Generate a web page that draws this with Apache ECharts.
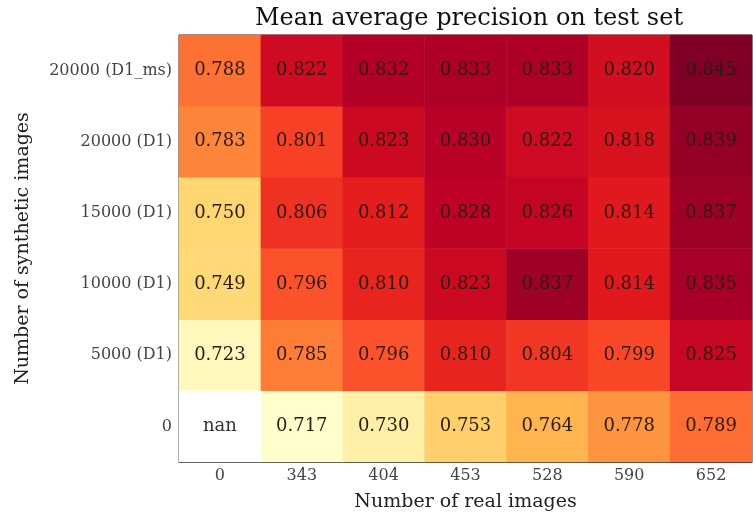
<!DOCTYPE html>
<html>
<head>
<meta charset="utf-8">
<script src="https://cdn.jsdelivr.net/npm/echarts@6/dist/echarts.min.js"></script>
<style>
  html, body { margin: 0; padding: 0; background: #fff; }
  #chart { width: 753px; height: 517px; }
</style>
</head>
<body>
<div id="chart"></div>
<script>
// 横轴：真实图片数量；纵轴：合成图片数量（自下而上）
const realImages = ["0", "343", "404", "453", "528", "590", "652"];
const syntheticImages = ["0", "5000 (D1)", "10000 (D1)", "15000 (D1)", "20000 (D1)", "20000 (D1_ms)"];

// 每行对应 syntheticImages 中同一下标，null 表示 nan
const row_0 = [null, 0.717, 0.730, 0.753, 0.764, 0.778, 0.789];
const row_5000 = [0.723, 0.785, 0.796, 0.810, 0.804, 0.799, 0.825];
const row_10000 = [0.749, 0.796, 0.810, 0.823, 0.837, 0.814, 0.835];
const row_15000 = [0.750, 0.806, 0.812, 0.828, 0.826, 0.814, 0.837];
const row_20000 = [0.783, 0.801, 0.823, 0.830, 0.822, 0.818, 0.839];
const row_20000ms = [0.788, 0.822, 0.832, 0.833, 0.833, 0.820, 0.845];
const rows = [row_0, row_5000, row_10000, row_15000, row_20000, row_20000ms];

const colorMin = 0.717;
const colorMax = 0.845;
const YlOrRd = ["#ffffcc", "#ffeda0", "#fed976", "#feb24c", "#fd8d3c", "#fc4e2a", "#e31a1c", "#bd0026", "#800026"];

const heatData = [];
const nanData = [];
rows.forEach((row, y) => {
  row.forEach((v, x) => {
    if (v === null) nanData.push([x, y, 0]);
    else heatData.push([x, y, v]);
  });
});

const serif = "DejaVu Serif";
const chart = echarts.init(document.getElementById("chart"));

const option = {
  backgroundColor: "#fff",
  animation: false,
  title: {
    text: "Mean average precision on test set",
    left: 464,
    textAlign: "center",
    top: 2,
    textStyle: { fontFamily: serif, fontSize: 24, fontWeight: "normal", color: "#111" }
  },
  grid: {
    left: 179, right: 1, top: 35, bottom: 53,
    show: true, borderColor: "#333", borderWidth: 1
  },
  xAxis: {
    type: "category",
    data: realImages,
    name: "Number of real images",
    nameLocation: "middle",
    nameGap: 31,
    nameTextStyle: { fontFamily: serif, fontSize: 19, color: "#222" },
    axisLine: { lineStyle: { color: "#333" } },
    axisTick: { alignWithLabel: true, length: 5, lineStyle: { color: "#555" } },
    axisLabel: { fontFamily: serif, fontSize: 16, color: "#444", margin: 6 },
    splitLine: { show: false }
  },
  yAxis: {
    type: "category",
    data: syntheticImages,
    name: "Number of synthetic images",
    nameLocation: "middle",
    nameGap: 146,
    nameTextStyle: { fontFamily: serif, fontSize: 19, color: "#222" },
    axisLine: { lineStyle: { color: "#333" } },
    axisTick: { alignWithLabel: true, length: 5, lineStyle: { color: "#555" } },
    axisLabel: { fontFamily: serif, fontSize: 16, color: "#444", margin: 7 },
    splitLine: { show: false }
  },
  visualMap: {
    show: false,
    type: "continuous",
    seriesIndex: 0,
    dimension: 2,
    min: colorMin,
    max: colorMax,
    inRange: { color: YlOrRd }
  },
  series: [
    {
      type: "heatmap",
      data: heatData,
      label: {
        show: true,
        fontFamily: serif,
        fontSize: 18,
        color: "#2a1a10",
        formatter: (p) => p.value[2].toFixed(3)
      },
      emphasis: { disabled: true }
    },
    {
      type: "heatmap",
      data: nanData,
      itemStyle: { color: "#ffffff" },
      label: {
        show: true,
        fontFamily: serif,
        fontSize: 18,
        color: "#333",
        formatter: "nan"
      },
      emphasis: { disabled: true }
    }
  ]
};

chart.setOption(option);
</script>
</body>
</html>
